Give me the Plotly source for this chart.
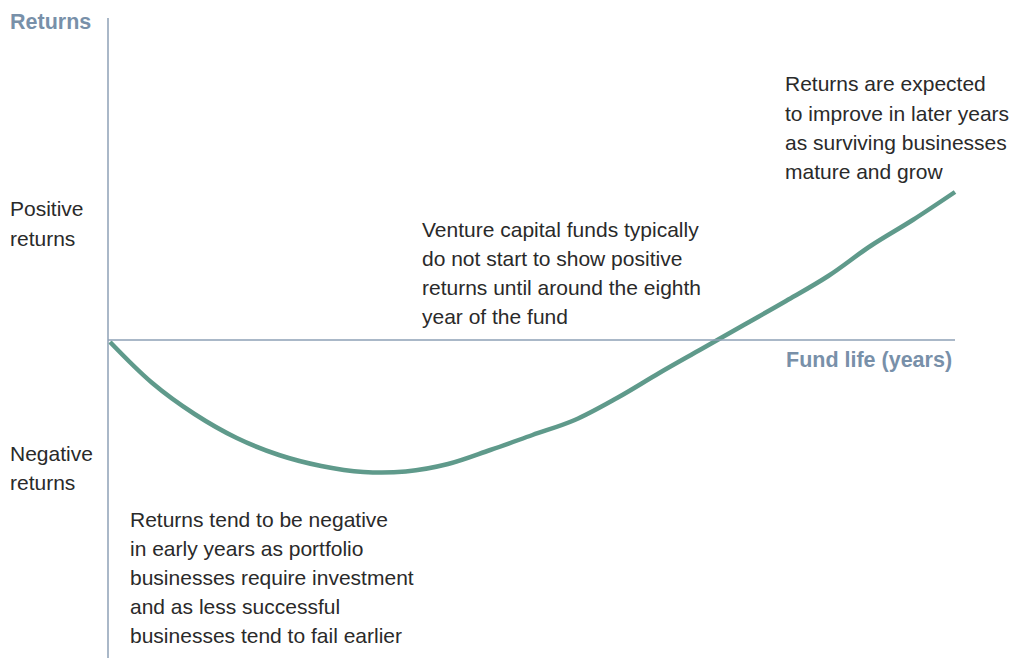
import plotly.graph_objects as go

W, H = 1009, 658

# Fund life (years) and stylised returns (arbitrary units)
years = [i * 0.5 for i in range(21)]
returns = [-0.2, -4.3, -7.4, -9.8, -11.5, -12.6, -13.2, -13.15, -12.4, -11.0,
           -9.5, -8.0, -5.8, -3.3, -0.9, 1.5, 3.9, 6.4, 9.4, 12.0, 14.8]

y_axis_title = "Returns"
x_axis_title = "Fund life (years)"
pos_label = ["Positive", "returns"]
neg_label = ["Negative", "returns"]
note_early = ["Returns tend to be negative", "in early years as portfolio",
              "businesses require investment", "and as less successful",
              "businesses tend to fail earlier"]
note_mid = ["Venture capital funds typically", "do not start to show positive",
            "returns until around the eighth", "year of the fund"]
note_late = ["Returns are expected", "to improve in later years",
             "as surviving businesses", "mature and grow"]

# scales: year 0 at px 110, 84.5 px/year; return 0 at px 340, 10 px/unit
x0_px, px_per_year = 110, 84.5
y0_px, px_per_unit = 340, 10.0
xr = [-x0_px / px_per_year, (W - x0_px) / px_per_year]
yr = [-(H - y0_px) / px_per_unit, y0_px / px_per_unit]

LINE = "#5f9a8b"
AXIS = "#8ea1b6"
SLATE = "#7890a9"
TXT = "#2a2a2a"
FONT = "Liberation Sans"

fig = go.Figure()
fig.add_trace(go.Scatter(x=years, y=returns, mode="lines",
                         line=dict(color=LINE, width=4.5, shape="spline", smoothing=1.0),
                         hoverinfo="skip", showlegend=False))

def px(x):
    return x / W

def py(y):
    return 1 - y / H

shapes = [
    dict(type="line", xref="paper", yref="paper", x0=px(108), x1=px(108), y0=py(18), y1=py(658),
         line=dict(color=AXIS, width=1.5)),
    dict(type="line", xref="paper", yref="paper", x0=px(108), x1=px(955), y0=py(340), y1=py(340),
         line=dict(color=AXIS, width=1.5)),
]

annotations = []

def block(lines, x, y_first, spacing, anchor="left", color=TXT, size=21, bold=False):
    for k, t in enumerate(lines):
        txt = f"<b>{t}</b>" if bold else t
        annotations.append(dict(xref="paper", yref="paper", x=px(x), y=py(y_first + k * spacing),
                                text=txt, showarrow=False, xanchor=anchor, yanchor="middle",
                                xshift=-2 if anchor == "left" else 2,
                                font=dict(family=FONT, size=size, color=color)))

block([y_axis_title], 10, 22, 0, color=SLATE, size=21.5, bold=True)
block([x_axis_title], 952, 360, 0, anchor="right", color=SLATE, size=21.5, bold=True)
block(pos_label, 10, 209, 29.3)
block(neg_label, 10, 453, 29.3)
block(note_mid, 422, 229, 29.3)
block(note_late, 785, 84, 29.3)
block(note_early, 130, 519, 29.1)

fig.update_layout(
    width=W, height=H, margin=dict(l=0, r=0, t=0, b=0),
    paper_bgcolor="white", plot_bgcolor="white",
    xaxis=dict(range=xr, visible=False, fixedrange=True),
    yaxis=dict(range=yr, visible=False, fixedrange=True),
    shapes=shapes, annotations=annotations, showlegend=False,
)

fig.write_html("out.html", config={"displayModeBar": False},
               post_script="document.body.style.margin='0';document.body.style.padding='0';")
